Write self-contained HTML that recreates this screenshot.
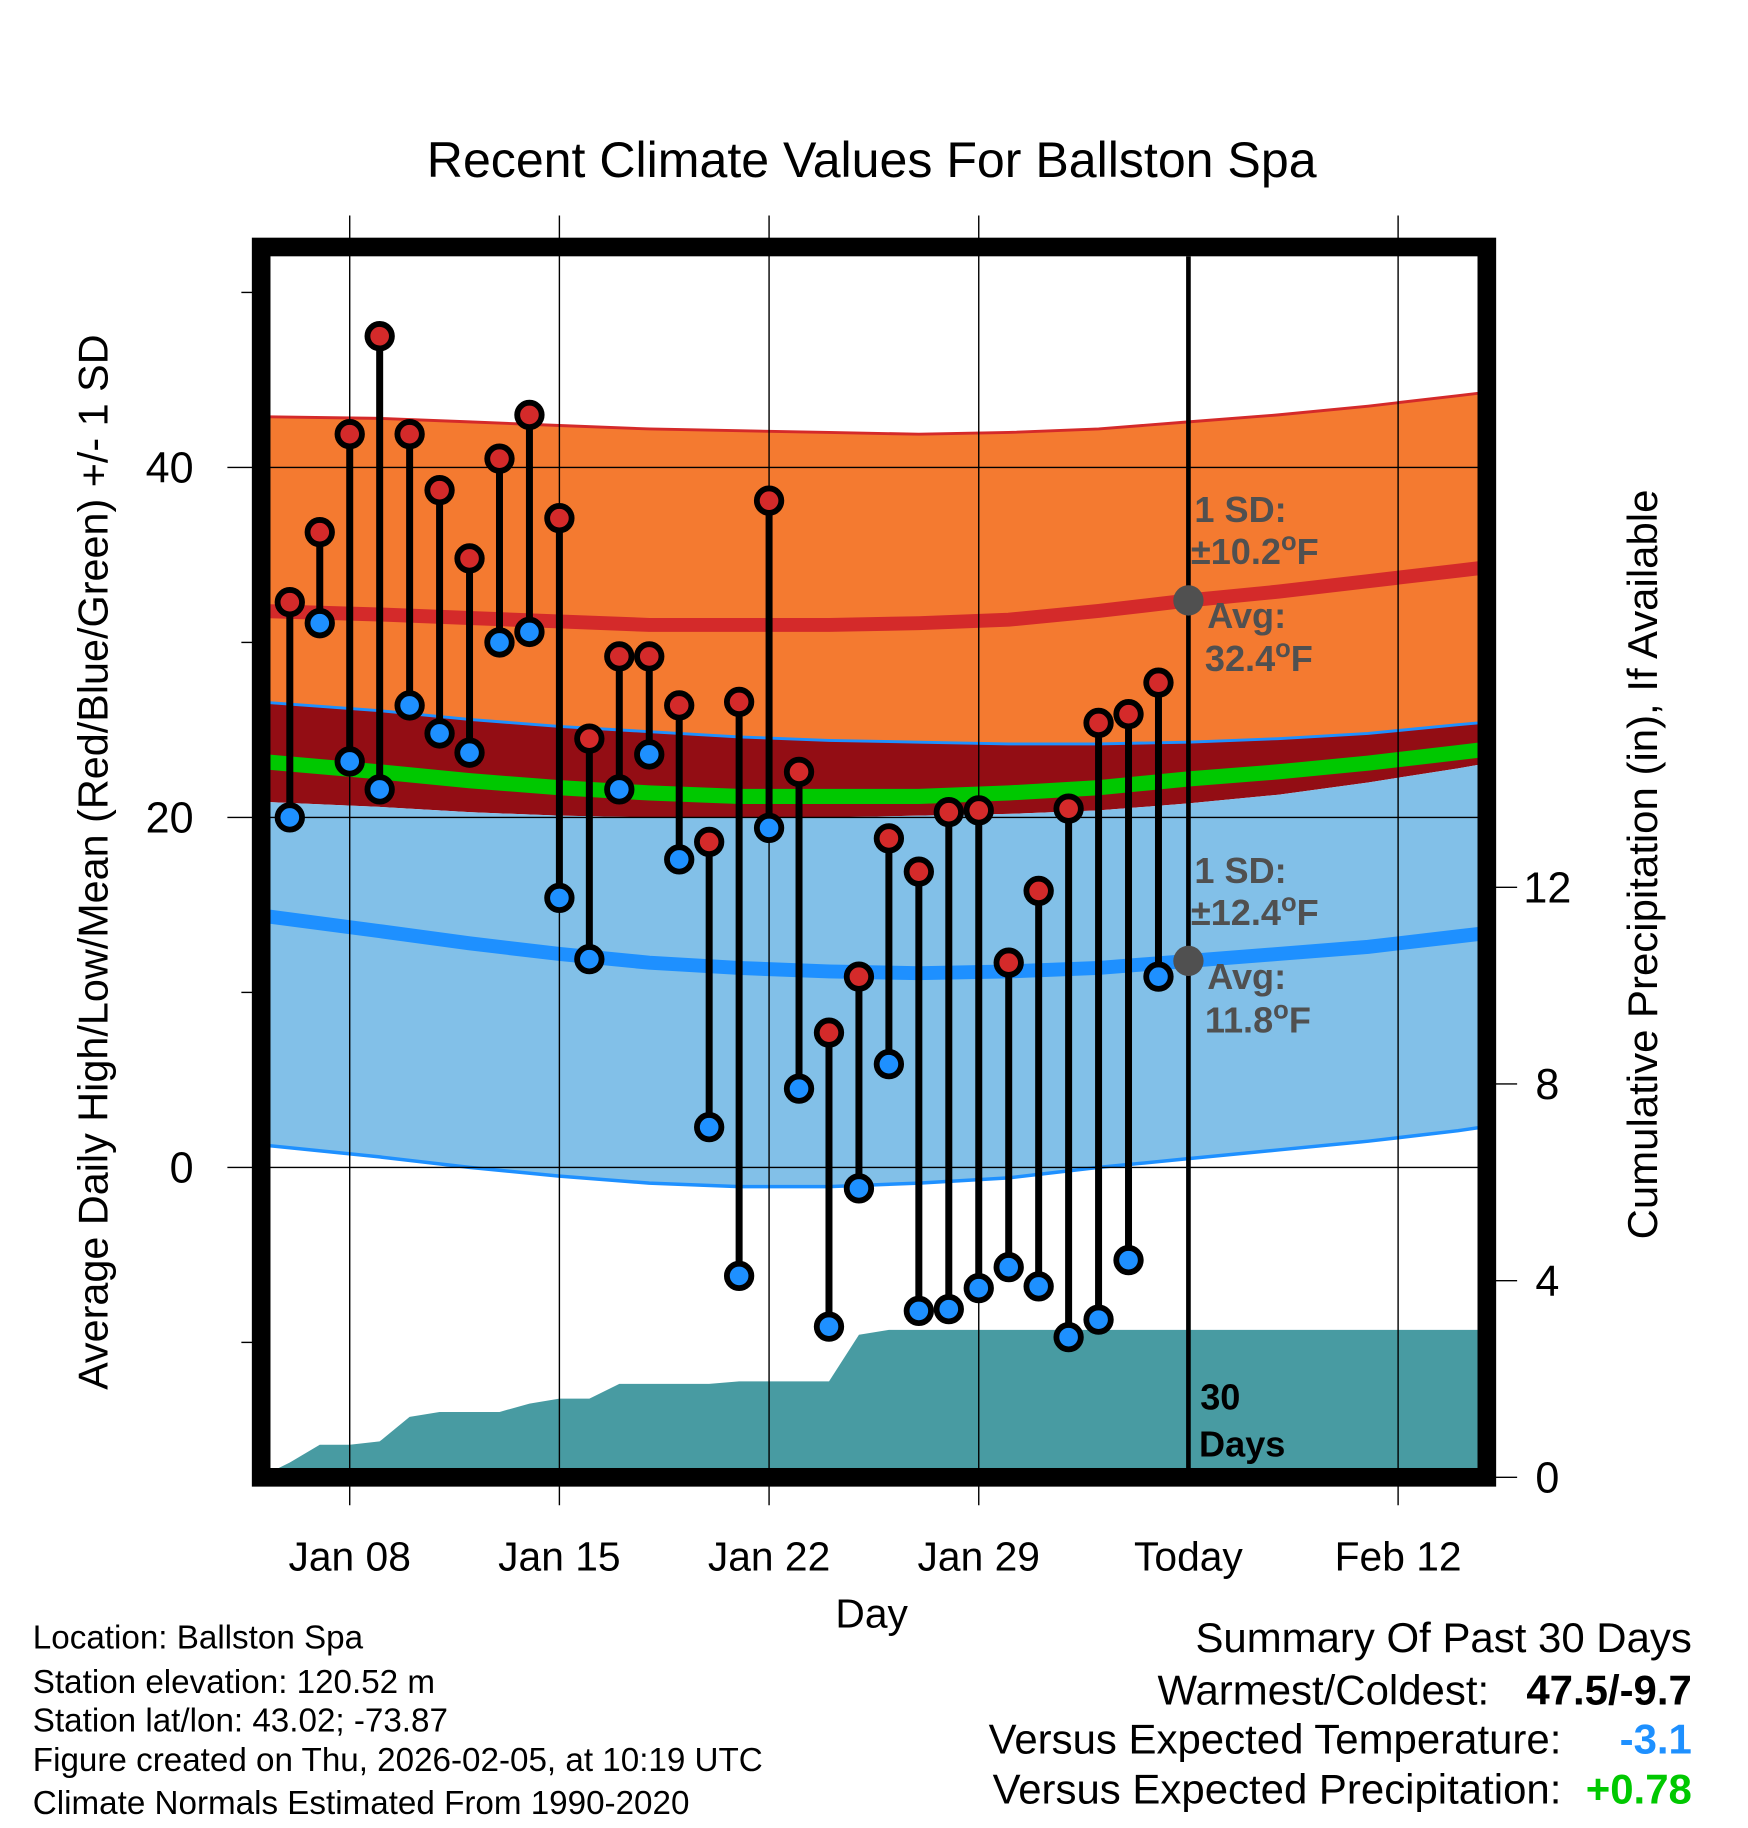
<!DOCTYPE html>
<html><head><meta charset="utf-8"><style>
html,body{margin:0;padding:0;background:#fff}
svg{display:block;font-family:"Liberation Sans",sans-serif}
</style></head><body>
<svg id="chart" width="1748" height="1828" viewBox="0 0 1500 1569" xmlns="http://www.w3.org/2000/svg">
<defs><clipPath id="plotclip"><rect x="232" y="220" width="1036" height="1040"/></clipPath></defs>
<text x="748" y="152" font-size="43" text-anchor="middle">Recent Climate Values For Ballston Spa</text>
<g id="plot" clip-path="url(#plotclip)"></g>
<g id="axes"></g>
<text transform="translate(92,740) rotate(-90)" font-size="35.5" text-anchor="middle">Average Daily High/Low/Mean (Red/Blue/Green) +/- 1 SD</text>
<text transform="translate(1422,742) rotate(-90)" font-size="36" text-anchor="middle">Cumulative Precipitation (in), If Available</text>
<text x="748" y="1397" font-size="35" text-anchor="middle">Day</text>
<g font-size="28.5">
<text x="28" y="1415">Location: Ballston Spa</text>
<text x="28" y="1453">Station elevation: 120.52 m</text>
<text x="28" y="1486">Station lat/lon: 43.02; -73.87</text>
<text x="28" y="1520">Figure created on Thu, 2026-02-05, at 10:19 UTC</text>
<text x="28" y="1557">Climate Normals Estimated From 1990-2020</text>
</g>
<g font-size="36">
<text x="1452" y="1418" text-anchor="end">Summary Of Past 30 Days</text>
<text x="1278" y="1463" text-anchor="end">Warmest/Coldest:</text>
<text x="1452" y="1463" text-anchor="end" font-weight="bold">47.5/-9.7</text>
<text x="1340" y="1505" text-anchor="end">Versus Expected Temperature:</text>
<text x="1452" y="1505" text-anchor="end" font-weight="bold" fill="#1e90ff">-3.1</text>
<text x="1340" y="1548" text-anchor="end">Versus Expected Precipitation:</text>
<text x="1452" y="1548" text-anchor="end" font-weight="bold" fill="#00c800">+0.78</text>
</g>
</svg>
<script>
// days since Jan 1 (Jan 6 = 5)
const obsDays = [5,6,7,8,9,10,11,12,13,14,15,16,17,18,19,20,21,22,23,24,25,26,27,28,29,30,31,32,33,34];
const highs = [32.3,36.3,41.9,47.5,41.9,38.7,34.8,40.5,43.0,37.1,24.5,29.2,29.2,26.4,18.6,26.6,38.1,22.6,7.7,10.9,18.8,16.9,20.3,20.4,11.7,15.8,20.5,25.4,25.9,27.7];
const lows = [20.0,31.1,23.2,21.6,26.4,24.8,23.7,30.0,30.6,15.4,11.9,21.6,23.6,17.6,2.3,-6.2,19.4,4.5,-9.1,-1.2,5.9,-8.2,-8.1,-6.9,-5.7,-6.8,-9.7,-8.7,-5.3,10.9];
const precipDays = [4,5,6,7,8,9,10,11,12,13,14,15,16,17,18,19,20,21,22,23,24,25,26,27,28,29,30,31,32,33,34,35,40,46];
const precipCum = [0,0.3,0.66,0.66,0.73,1.23,1.33,1.33,1.33,1.5,1.6,1.6,1.9,1.9,1.9,1.9,1.95,1.95,1.95,1.95,2.9,3.0,3.0,3.0,3.0,3.0,3.0,3.0,3.0,3.0,3.0,3.0,3.0,3.0];
const normDays = [4,8,11,14,17,20,23,26,29,32,35,38,41,44,46];
const highUpper = [42.9,42.8,42.6,42.4,42.2,42.1,42.0,41.9,42.0,42.2,42.6,43.0,43.5,44.1,44.5];
const highMean = [31.8,31.6,31.4,31.2,31.0,31.0,31.0,31.1,31.3,31.8,32.4,32.9,33.5,34.1,34.5];
const highLower = [26.6,26.1,25.6,25.2,24.9,24.6,24.4,24.3,24.2,24.2,24.3,24.5,24.8,25.3,25.6];
const meanMean = [23.2,22.6,22.1,21.7,21.4,21.2,21.2,21.2,21.4,21.7,22.2,22.6,23.1,23.7,24.1];
const lowUpper = [20.9,20.6,20.3,20.1,20.0,20.0,20.0,20.1,20.2,20.4,20.8,21.3,22.0,22.8,23.4];
const lowMean = [14.4,13.5,12.8,12.2,11.7,11.4,11.2,11.1,11.2,11.4,11.8,12.2,12.6,13.2,13.6];
const lowLower = [1.3,0.6,0.0,-0.5,-0.9,-1.1,-1.1,-0.9,-0.6,0.0,0.5,1.0,1.5,2.1,2.6];
const tempTicks = [40,20,0];
const minorTicks = [50,30,10,-10];
const precipTicks = [0,4,8,12];
const xTickDays = [7,14,21,28,35,42];
const xTickLabels = ['Jan 08','Jan 15','Jan 22','Jan 29','Today','Feb 12'];
const todayDay = 35;
const todayHighAvg = 32.4, todayLowAvg = 11.8;

const NS='http://www.w3.org/2000/svg';
const xS = d => 300 + (d-7)*25.71;
const yS = v => 1002 - v*15.02;
const pS = v => 1268 - v*42.2;
function mk(tag, attrs, parent){const e=document.createElementNS(NS,tag);for(const k in attrs)e.setAttribute(k,attrs[k]);parent.appendChild(e);return e;}
const plot=document.getElementById('plot'), axes=document.getElementById('axes');
function pts(ds, vs){return ds.map((d,i)=>xS(d).toFixed(1)+','+yS(vs[i]).toFixed(1));}
function band(up, lo, fill, name){
  const p=pts(normDays,up).concat(pts(normDays,lo).reverse()).join(' ');
  const e=mk('polygon',{points:p,fill:fill},plot);
  
  
}
function line(vs, color, w, name){
  const e=mk('polyline',{points:pts(normDays,vs).join(' '),fill:'none',stroke:color,'stroke-width':w},plot);
  
  
}
band(highUpper, highLower, '#f47a30', 'high-sd-band');
band(highLower, lowUpper, '#930d14', 'overlap-band');
band(lowUpper, lowLower, '#82c0e8', 'low-sd-band');
line(highUpper,'#d42a2a',2.5,'high-upper-line');
line(highLower,'#1e90ff',2.5,'high-lower-line');
line(lowLower,'#1e90ff',3,'low-lower-line');
line(meanMean,'#00c800',13,'mean-line');
line(highMean,'#d42a2a',12,'high-normal-line');
line(lowMean,'#1e90ff',12,'low-normal-line');
{
  const p=precipDays.map((d,i)=>xS(d).toFixed(1)+','+pS(precipCum[i]).toFixed(1));
  p.push(xS(precipDays[precipDays.length-1]).toFixed(1)+',1270', xS(precipDays[0]).toFixed(1)+',1270');
  const e=mk('polygon',{points:p.join(' '),fill:'#489ba2'},plot);
  
  
}
xTickDays.forEach((d,i)=>{
  if(d===todayDay) return;
  const g=mk('line',{x1:xS(d),x2:xS(d),y1:185,y2:1292,stroke:'#000','stroke-width':1.2},axes);
  
  
});
tempTicks.forEach(v=>{
  const g=mk('line',{x1:195,x2:1276,y1:yS(v),y2:yS(v),stroke:'#000','stroke-width':1.2},axes);
  
  
  const t=mk('text',{x:166,y:yS(v)+13,'font-size':37,'text-anchor':'end'},axes);
  t.textContent=v;
  
  
});
minorTicks.forEach(v=>{
  const g=mk('line',{x1:207,x2:218,y1:yS(v),y2:yS(v),stroke:'#000','stroke-width':1.2},axes);
  
  
});
precipTicks.forEach(v=>{
  const g=mk('line',{x1:1276,x2:1302,y1:pS(v),y2:pS(v),stroke:'#000','stroke-width':1.2},axes);
  
  
  const t=mk('text',{x:1328,y:pS(v)+13,'font-size':37,'text-anchor':'middle'},axes);
  t.textContent=v;
  
  
});
xTickDays.forEach((d,i)=>{
  const t=mk('text',{x:xS(d),y:1348,'font-size':35,'text-anchor':'middle'},axes);
  t.textContent=xTickLabels[i];
  
  
});
{
  const g=mk('line',{x1:xS(todayDay),x2:xS(todayDay),y1:220,y2:1262,stroke:'#000','stroke-width':4},axes);
  
  
}
obsDays.forEach((d,i)=>{
  const x=xS(d);
  const l=mk('line',{x1:x,x2:x,y1:yS(highs[i]),y2:yS(lows[i]),stroke:'#000','stroke-width':6},axes);
  
  
  const h=mk('circle',{cx:x,cy:yS(highs[i]),r:10.5,fill:'#d42a2a',stroke:'#000','stroke-width':5},axes);
  
  
  const lo=mk('circle',{cx:x,cy:yS(lows[i]),r:10.5,fill:'#1e90ff',stroke:'#000','stroke-width':5},axes);
  
  
});
[todayHighAvg,todayLowAvg].forEach(v=>{
  const c=mk('circle',{cx:xS(todayDay),cy:yS(v),r:13,fill:'#505050'},axes);
  
  
});
function txt(x,y,s,name,fill){
  const t=mk('text',{x:x,y:y,'font-size':31,'font-weight':'bold',fill:fill||'#505050'},axes);
  t.innerHTML=s;
  
  
}
txt(1025,448,'1 SD:','high-sd-label');
txt(1022,484,'±10.2<tspan dy="-12" font-size="22">o</tspan><tspan dy="12">F</tspan>','high-sd-value');
txt(1036,539,'Avg:','high-avg-label');
txt(1034,576,'32.4<tspan dy="-12" font-size="22">o</tspan><tspan dy="12">F</tspan>','high-avg-value');
txt(1025,758,'1 SD:','low-sd-label');
txt(1022,794,'±12.4<tspan dy="-12" font-size="22">o</tspan><tspan dy="12">F</tspan>','low-sd-value');
txt(1036,849,'Avg:','low-avg-label');
txt(1034,886,'11.8<tspan dy="-12" font-size="22">o</tspan><tspan dy="12">F</tspan>','low-avg-value');
txt(1030,1210,'30','days-label-num','#000');
txt(1029,1250,'Days','days-label','#000');
{
  const f=mk('rect',{x:224,y:212,width:1052,height:1056,fill:'none',stroke:'#000','stroke-width':16},axes);
  
  
}
</script>
</body></html>
